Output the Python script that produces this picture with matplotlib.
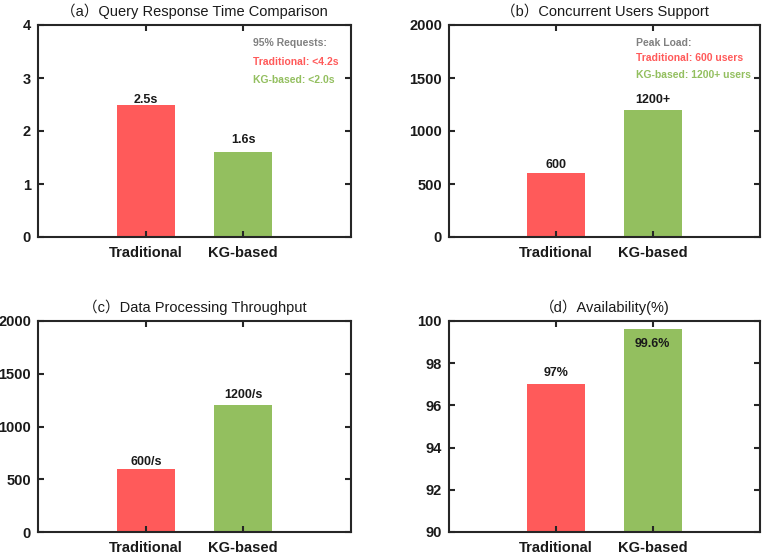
import matplotlib
matplotlib.use("Agg")
import matplotlib.pyplot as plt

plt.rcParams['font.family'] = ['Liberation Sans', 'Noto Sans CJK SC', 'DejaVu Sans']

categories = ["Traditional", "KG-based"]
titles = ["（a）Query Response Time Comparison", "（b）Concurrent Users Support",
          "（c）Data Processing Throughput", "（d）Availability(%)"]
resp_time = [2.5, 1.6]
users = [600, 1200]
throughput = [600, 1200]
availability = [97.0, 99.6]
bar_labels = [["2.5s", "1.6s"], ["600", "1200+"], ["600/s", "1200/s"], ["97%", "99.6%"]]
label_y = [[2.58, 1.83], [680, 1290], [665, 1298], [97.53, 98.9]]
ylims = [(0, 4), (0, 2000), (0, 2000), (90, 100)]
yticks = [[0, 1, 2, 3, 4], [0, 500, 1000, 1500, 2000], [0, 500, 1000, 1500, 2000],
          [90, 92, 94, 96, 98, 100]]
notes = [["95% Requests:", "Traditional: <4.2s", "KG-based: <2.0s"],
         ["Peak Load:", "Traditional: 600 users", "KG-based: 1200+ users"], None, None]
note_pos = [[(0.687, 0.915), (0.687, 0.826), (0.687, 0.74)],
            [(0.6, 0.915), (0.6, 0.842), (0.6, 0.764)], None, None]
series = [resp_time, users, throughput, availability]

RED = "#FF5A5A"
GREEN = "#93BF5F"
GRAY = "#808080"
AX = "#262626"

fig = plt.figure(figsize=(7.63, 5.54), dpi=100)
W, H = 763, 554
boxes = [(38, 25, 351, 237), (449, 25, 760, 237), (38, 321, 351, 532), (449, 321, 760, 532)]
x = [1, 2]
for i, (l, t, r, b) in enumerate(boxes):
    ax = fig.add_axes([l / W, 1 - b / H, (r - l) / W, (b - t) / H])
    ylo = ylims[i][0]
    vals = [v - ylo for v in series[i]]
    ax.bar(x, vals, width=0.6, bottom=ylo, color=[RED, GREEN], edgecolor='none')
    ax.set_xlim(-0.11, 3.11)
    ax.set_ylim(*ylims[i])
    ax.set_xticks(x)
    ax.set_xticklabels(categories, fontsize=10.5, fontweight='bold')
    ax.set_yticks(yticks[i])
    ax.set_yticklabels([str(v) for v in yticks[i]], fontsize=10.5, fontweight='bold')
    ax.tick_params(direction='in', top=True, right=True, length=4, width=1.5, color=AX,
                   labelcolor='#1a1a1a')
    ax.tick_params(axis='x', pad=6.5)
    ax.tick_params(axis='y', pad=5)
    for sp in ax.spines.values():
        sp.set_linewidth(1.5)
        sp.set_color(AX)
    ax.set_title(titles[i], fontsize=10.5, fontweight='normal', pad=6.5,
                 family=['Liberation Sans', 'Noto Sans CJK SC', 'DejaVu Sans'], color='#1a1a1a')
    for xi, lab, ly in zip(x, bar_labels[i], label_y[i]):
        ax.text(xi, ly, lab, ha='center', va='center', fontsize=9, fontweight='bold', color='#1a1a1a')
    if notes[i]:
        for txt, (px, py), c in zip(notes[i], note_pos[i], [GRAY, RED, GREEN]):
            ax.text(px, py, txt, transform=ax.transAxes, ha='left', va='center',
                    fontsize=7.5, fontweight='bold', color=c)

fig.savefig("out.png", dpi=100)
